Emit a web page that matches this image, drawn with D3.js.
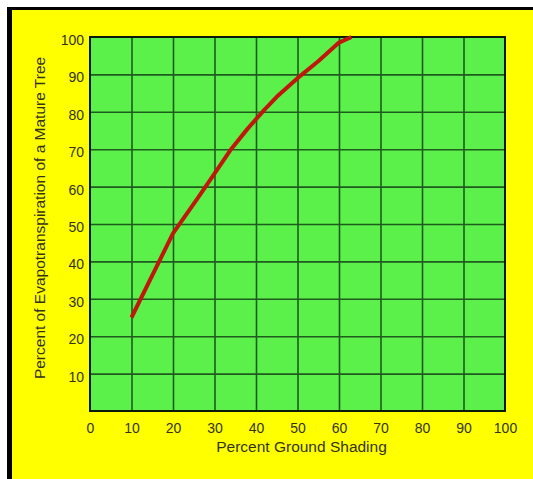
<!DOCTYPE html>
<meta charset='utf-8'>
<style>
  body { margin: 0; background: #fff; }
  svg { display: block; font-family: "Liberation Sans", Arial, sans-serif; }
  .axis text { fill: #33331a; font-size: 14px; }
  .axis path { display: none; }
  .grid line { stroke: #1f5a1f; stroke-width: 1.6px; }
  .grid path { display: none; }
</style>
<body></body>
<script src="https://cdnjs.cloudflare.com/ajax/libs/d3/7.8.5/d3.min.js"></script>
<script>

// values
var shading = [10, 20, 26, 30, 34, 38, 42, 45, 50, 55, 60, 63];
var evap    = [25, 47.5, 57, 63.5, 70, 75.5, 80.5, 84, 89, 93.5, 98.5, 100];
var xTicks = [0, 10, 20, 30, 40, 50, 60, 70, 80, 90, 100];
var yTicks = [10, 20, 30, 40, 50, 60, 70, 80, 90, 100];
var xTitle = 'Percent Ground Shading';
var yTitle = 'Percent of Evapotranspiration of a Mature Tree';

var W = 533, H = 479;
var margin = {left: 90, top: 37, right: 28, bottom: 68};
var width = W - margin.left - margin.right,
    height = H - margin.top - margin.bottom;

var svg = d3.select('body').append('svg').attr('width', W).attr('height', H);

// frame: black edge top/left, yellow panel
svg.append('rect').attr('x', 7).attr('y', 7).attr('width', W - 7).attr('height', H - 7).attr('fill', '#000');
svg.append('rect').attr('x', 12).attr('y', 10).attr('width', W - 12).attr('height', H - 10).attr('fill', '#ffff00');

var g = svg.append('g').attr('transform', 'translate(' + margin.left + ',' + margin.top + ')');

var x = d3.scaleLinear().domain([0, 100]).range([0, width]);
var y = d3.scaleLinear().domain([0, 100]).range([height, 0]);

g.append('rect').attr('width', width).attr('height', height).attr('fill', '#5cf04a');

// grid
g.append('g').attr('class', 'grid')
  .attr('transform', 'translate(0,' + height + ')')
  .call(d3.axisBottom(x).tickValues(xTicks.slice(1, -1)).tickSize(-height).tickFormat(''));
g.append('g').attr('class', 'grid')
  .call(d3.axisLeft(y).tickValues(yTicks.slice(0, -1)).tickSize(-width).tickFormat(''));

// plot border
g.append('rect').attr('width', width).attr('height', height)
  .attr('fill', 'none').attr('stroke', '#0a1a0a').attr('stroke-width', 2);

// axes labels
g.append('g').attr('class', 'axis')
  .attr('transform', 'translate(0,' + height + ')')
  .call(d3.axisBottom(x).tickValues(xTicks).tickSize(0).tickPadding(12).tickFormat(d3.format('d')))
  .selectAll('line').remove();

g.append('g').attr('class', 'axis')
  .call(d3.axisLeft(y).tickValues(yTicks).tickSize(0).tickPadding(6).tickFormat(d3.format('d')))
  .call(a => a.selectAll('text').attr('y', 3))
  .selectAll('line').remove();

// titles
svg.append('text')
  .attr('x', margin.left + width / 2 + 4).attr('y', 452)
  .attr('text-anchor', 'middle').attr('fill', '#33331a').style('font-size', '15.5px')
  .text(xTitle);

svg.append('text')
  .attr('transform', 'translate(45,218) rotate(-90)')
  .attr('text-anchor', 'middle').attr('fill', '#33331a').style('font-size', '15.5px')
  .text(yTitle);

// curve
var pts = shading.map((s, i) => ({s: s, e: evap[i]}));
var line = d3.line().x(d => x(d.s)).y(d => y(d.e));

g.append('path').datum(pts)
  .attr('d', line)
  .attr('fill', 'none').attr('stroke', '#bf170c').attr('stroke-width', 4)
  .attr('stroke-linejoin', 'round');

</script>
